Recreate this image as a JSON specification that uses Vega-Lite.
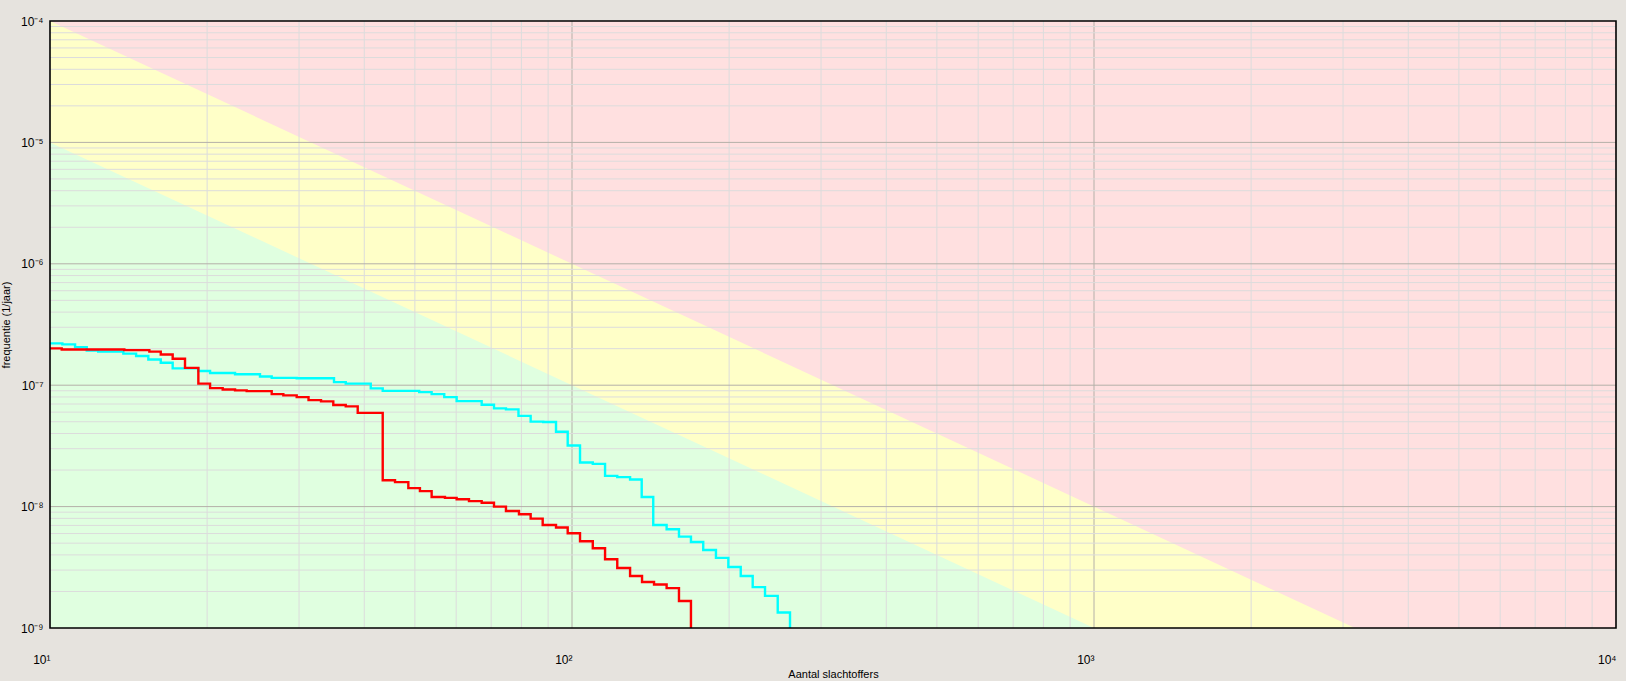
{
  "$schema": "https://vega.github.io/schema/vega-lite/v6.json",
  "description": "FN-curve with risk zones, log-log",
  "width": 1566,
  "height": 607,
  "autosize": {"type": "none"},
  "padding": {"left": 50, "top": 21, "right": 10, "bottom": 53},
  "background": "#E6E3DE",
  "config": {
    "view": {"stroke": null, "fill": "#FFE0E0"},
    "font": "Liberation Sans"
  },
  "datasets": {
    "zones": [
      {"zone": "geel", "N": 10, "F": 1e-4},
      {"zone": "geel", "N": 10000, "F": 1e-10},
      {"zone": "groen", "N": 10, "F": 1e-5},
      {"zone": "groen", "N": 10000, "F": 1e-11}
    ],
    "frame": [
      {"N": 10, "N2": 10000, "F": 1e-4, "F2": 1e-9}
    ],
    "gridX": [
      {"N": 20, "kind": "minor"}, {"N": 30, "kind": "minor"}, {"N": 40, "kind": "minor"},
      {"N": 50, "kind": "minor"}, {"N": 60, "kind": "minor"}, {"N": 70, "kind": "minor"},
      {"N": 80, "kind": "minor"}, {"N": 90, "kind": "minor"},
      {"N": 200, "kind": "minor"}, {"N": 300, "kind": "minor"}, {"N": 400, "kind": "minor"},
      {"N": 500, "kind": "minor"}, {"N": 600, "kind": "minor"}, {"N": 700, "kind": "minor"},
      {"N": 800, "kind": "minor"}, {"N": 900, "kind": "minor"},
      {"N": 2000, "kind": "minor"}, {"N": 3000, "kind": "minor"}, {"N": 4000, "kind": "minor"},
      {"N": 5000, "kind": "minor"}, {"N": 6000, "kind": "minor"}, {"N": 7000, "kind": "minor"},
      {"N": 8000, "kind": "minor"}, {"N": 9000, "kind": "minor"},
      {"N": 100, "kind": "major"}, {"N": 1000, "kind": "major"}
    ],
    "gridY": [
      {"F": 2e-9, "kind": "minor"}, {"F": 3e-9, "kind": "minor"}, {"F": 4e-9, "kind": "minor"},
      {"F": 5e-9, "kind": "minor"}, {"F": 6e-9, "kind": "minor"}, {"F": 7e-9, "kind": "minor"},
      {"F": 8e-9, "kind": "minor"}, {"F": 9e-9, "kind": "minor"},
      {"F": 2e-8, "kind": "minor"}, {"F": 3e-8, "kind": "minor"}, {"F": 4e-8, "kind": "minor"},
      {"F": 5e-8, "kind": "minor"}, {"F": 6e-8, "kind": "minor"}, {"F": 7e-8, "kind": "minor"},
      {"F": 8e-8, "kind": "minor"}, {"F": 9e-8, "kind": "minor"},
      {"F": 2e-7, "kind": "minor"}, {"F": 3e-7, "kind": "minor"}, {"F": 4e-7, "kind": "minor"},
      {"F": 5e-7, "kind": "minor"}, {"F": 6e-7, "kind": "minor"}, {"F": 7e-7, "kind": "minor"},
      {"F": 8e-7, "kind": "minor"}, {"F": 9e-7, "kind": "minor"},
      {"F": 2e-6, "kind": "minor"}, {"F": 3e-6, "kind": "minor"}, {"F": 4e-6, "kind": "minor"},
      {"F": 5e-6, "kind": "minor"}, {"F": 6e-6, "kind": "minor"}, {"F": 7e-6, "kind": "minor"},
      {"F": 8e-6, "kind": "minor"}, {"F": 9e-6, "kind": "minor"},
      {"F": 2e-5, "kind": "minor"}, {"F": 3e-5, "kind": "minor"}, {"F": 4e-5, "kind": "minor"},
      {"F": 5e-5, "kind": "minor"}, {"F": 6e-5, "kind": "minor"}, {"F": 7e-5, "kind": "minor"},
      {"F": 8e-5, "kind": "minor"}, {"F": 9e-5, "kind": "minor"},
      {"F": 1e-8, "kind": "major"}, {"F": 1e-7, "kind": "major"},
      {"F": 1e-6, "kind": "major"}, {"F": 1e-5, "kind": "major"}
    ],
    "curves": [
      {"serie": "cyaan", "N": 10, "F": 2.21e-7},
      {"serie": "cyaan", "N": 10.56, "F": 2.17e-7},
      {"serie": "cyaan", "N": 11.17, "F": 2.06e-7},
      {"serie": "cyaan", "N": 11.76, "F": 1.93e-7},
      {"serie": "cyaan", "N": 12.37, "F": 1.89e-7},
      {"serie": "cyaan", "N": 13.82, "F": 1.82e-7},
      {"serie": "cyaan", "N": 14.62, "F": 1.74e-7},
      {"serie": "cyaan", "N": 15.43, "F": 1.63e-7},
      {"serie": "cyaan", "N": 16.3, "F": 1.53e-7},
      {"serie": "cyaan", "N": 17.18, "F": 1.375e-7},
      {"serie": "cyaan", "N": 19.24, "F": 1.31e-7},
      {"serie": "cyaan", "N": 20.26, "F": 1.26e-7},
      {"serie": "cyaan", "N": 22.62, "F": 1.23e-7},
      {"serie": "cyaan", "N": 25.25, "F": 1.18e-7},
      {"serie": "cyaan", "N": 26.59, "F": 1.15e-7},
      {"serie": "cyaan", "N": 29.69, "F": 1.14e-7},
      {"serie": "cyaan", "N": 35.0, "F": 1.06e-7},
      {"serie": "cyaan", "N": 36.86, "F": 1.03e-7},
      {"serie": "cyaan", "N": 41.16, "F": 9.41e-8},
      {"serie": "cyaan", "N": 43.39, "F": 8.98e-8},
      {"serie": "cyaan", "N": 50.97, "F": 8.77e-8},
      {"serie": "cyaan", "N": 53.84, "F": 8.45e-8},
      {"serie": "cyaan", "N": 56.92, "F": 7.98e-8},
      {"serie": "cyaan", "N": 60.12, "F": 7.4e-8},
      {"serie": "cyaan", "N": 67.14, "F": 6.91e-8},
      {"serie": "cyaan", "N": 70.88, "F": 6.44e-8},
      {"serie": "cyaan", "N": 74.73, "F": 6.32e-8},
      {"serie": "cyaan", "N": 78.97, "F": 5.59e-8},
      {"serie": "cyaan", "N": 83.33, "F": 5.01e-8},
      {"serie": "cyaan", "N": 88.1, "F": 4.97e-8},
      {"serie": "cyaan", "N": 93.19, "F": 4.13e-8},
      {"serie": "cyaan", "N": 98.12, "F": 3.19e-8},
      {"serie": "cyaan", "N": 103.6, "F": 2.31e-8},
      {"serie": "cyaan", "N": 109.6, "F": 2.25e-8},
      {"serie": "cyaan", "N": 115.7, "F": 1.79e-8},
      {"serie": "cyaan", "N": 122.1, "F": 1.75e-8},
      {"serie": "cyaan", "N": 129.2, "F": 1.67e-8},
      {"serie": "cyaan", "N": 136.0, "F": 1.2e-8},
      {"serie": "cyaan", "N": 143.1, "F": 7.06e-9},
      {"serie": "cyaan", "N": 151.8, "F": 6.5e-9},
      {"serie": "cyaan", "N": 160.3, "F": 5.66e-9},
      {"serie": "cyaan", "N": 169.0, "F": 5.11e-9},
      {"serie": "cyaan", "N": 178.4, "F": 4.39e-9},
      {"serie": "cyaan", "N": 188.7, "F": 3.78e-9},
      {"serie": "cyaan", "N": 199.3, "F": 3.18e-9},
      {"serie": "cyaan", "N": 210.5, "F": 2.68e-9},
      {"serie": "cyaan", "N": 221.9, "F": 2.17e-9},
      {"serie": "cyaan", "N": 234.3, "F": 1.84e-9},
      {"serie": "cyaan", "N": 247.8, "F": 1.34e-9},
      {"serie": "cyaan", "N": 261.6, "F": 1e-10},
      {"serie": "rood", "N": 10, "F": 2.01e-7},
      {"serie": "rood", "N": 10.53, "F": 1.97e-7},
      {"serie": "rood", "N": 13.88, "F": 1.945e-7},
      {"serie": "rood", "N": 15.5, "F": 1.89e-7},
      {"serie": "rood", "N": 16.3, "F": 1.79e-7},
      {"serie": "rood", "N": 17.18, "F": 1.65e-7},
      {"serie": "rood", "N": 18.14, "F": 1.39e-7},
      {"serie": "rood", "N": 19.24, "F": 1.03e-7},
      {"serie": "rood", "N": 20.26, "F": 9.46e-8},
      {"serie": "rood", "N": 21.42, "F": 9.23e-8},
      {"serie": "rood", "N": 22.62, "F": 9.06e-8},
      {"serie": "rood", "N": 23.81, "F": 8.94e-8},
      {"serie": "rood", "N": 26.59, "F": 8.45e-8},
      {"serie": "rood", "N": 27.99, "F": 8.24e-8},
      {"serie": "rood", "N": 29.69, "F": 7.98e-8},
      {"serie": "rood", "N": 31.28, "F": 7.54e-8},
      {"serie": "rood", "N": 33.05, "F": 7.36e-8},
      {"serie": "rood", "N": 34.89, "F": 6.86e-8},
      {"serie": "rood", "N": 36.86, "F": 6.69e-8},
      {"serie": "rood", "N": 38.86, "F": 5.92e-8},
      {"serie": "rood", "N": 43.39, "F": 1.65e-8},
      {"serie": "rood", "N": 45.81, "F": 1.59e-8},
      {"serie": "rood", "N": 48.58, "F": 1.42e-8},
      {"serie": "rood", "N": 51.13, "F": 1.34e-8},
      {"serie": "rood", "N": 53.84, "F": 1.2e-8},
      {"serie": "rood", "N": 57.1, "F": 1.18e-8},
      {"serie": "rood", "N": 60.12, "F": 1.15e-8},
      {"serie": "rood", "N": 63.48, "F": 1.11e-8},
      {"serie": "rood", "N": 67.14, "F": 1.075e-8},
      {"serie": "rood", "N": 70.88, "F": 1.0e-8},
      {"serie": "rood", "N": 74.73, "F": 9.2e-9},
      {"serie": "rood", "N": 79.14, "F": 8.64e-9},
      {"serie": "rood", "N": 83.33, "F": 7.96e-9},
      {"serie": "rood", "N": 87.87, "F": 7.06e-9},
      {"serie": "rood", "N": 93.19, "F": 6.72e-9},
      {"serie": "rood", "N": 98.12, "F": 6.03e-9},
      {"serie": "rood", "N": 103.6, "F": 5.18e-9},
      {"serie": "rood", "N": 109.6, "F": 4.54e-9},
      {"serie": "rood", "N": 115.7, "F": 3.68e-9},
      {"serie": "rood", "N": 122.1, "F": 3.12e-9},
      {"serie": "rood", "N": 129.2, "F": 2.68e-9},
      {"serie": "rood", "N": 136.2, "F": 2.39e-9},
      {"serie": "rood", "N": 143.6, "F": 2.28e-9},
      {"serie": "rood", "N": 151.8, "F": 2.13e-9},
      {"serie": "rood", "N": 160.3, "F": 1.67e-9},
      {"serie": "rood", "N": 169.0, "F": 1e-10}
    ]
  },
  "encoding": {
    "x": {
      "field": "N",
      "type": "quantitative",
      "scale": {"type": "log", "domain": [10, 10000], "nice": false},
      "axis": {
        "title": "Aantal slachtoffers",
        "values": [10, 100, 1000, 10000],
        "labelExpr": "datum.value == 10 ? '10¹' : datum.value == 100 ? '10²' : datum.value == 1000 ? '10³' : '10⁴'",
        "grid": false, "ticks": false, "tickSize": 0, "domain": false,
        "labelFlush": false, "labelAlign": "right", "labelDx": 3,
        "labelBaseline": "alphabetic", "labelPadding": 35,
        "labelFontSize": 12, "labelColor": "#000000",
        "titleFontSize": 11, "titleFontWeight": "normal", "titleColor": "#000000",
        "titleBaseline": "alphabetic", "titleY": 49
      }
    },
    "y": {
      "field": "F",
      "type": "quantitative",
      "scale": {"type": "log", "domain": [1e-9, 1e-4], "nice": false},
      "axis": {
        "title": "frequentie (1/jaar)",
        "values": [1e-9, 1e-8, 1e-7, 1e-6, 1e-5, 1e-4],
        "labelExpr": "datum.value < 5e-9 ? '10⁻⁹' : datum.value < 5e-8 ? '10⁻⁸' : datum.value < 5e-7 ? '10⁻⁷' : datum.value < 5e-6 ? '10⁻⁶' : datum.value < 5e-5 ? '10⁻⁵' : '10⁻⁴'",
        "grid": false, "ticks": false, "tickSize": 0, "domain": false,
        "labelFlush": false, "labelPadding": 7, "labelBaseline": "middle",
        "labelFontSize": 12, "labelColor": "#000000",
        "titleFontSize": 11, "titleFontWeight": "normal", "titleColor": "#000000",
        "titleX": -44, "titleBaseline": "middle"
      }
    }
  },
  "layer": [
    {
      "data": {"name": "zones"},
      "transform": [{"filter": "datum.zone == 'geel'"}],
      "mark": {"type": "area", "color": "#FFFFC8", "clip": true},
      "encoding": {"y2": {"datum": 1e-9}}
    },
    {
      "data": {"name": "zones"},
      "transform": [{"filter": "datum.zone == 'groen'"}],
      "mark": {"type": "area", "color": "#E0FFE0", "clip": true},
      "encoding": {"y2": {"datum": 1e-9}}
    },
    {
      "data": {"name": "gridX"},
      "mark": {"type": "rule", "strokeWidth": 1},
      "encoding": {
        "y": null,
        "color": {"field": "kind", "type": "nominal", "scale": {"domain": ["minor", "major"], "range": ["#DCDCDC", "#B4B0A8"]}, "legend": null}
      }
    },
    {
      "data": {"name": "gridY"},
      "mark": {"type": "rule", "strokeWidth": 1},
      "encoding": {
        "x": null,
        "color": {"field": "kind", "type": "nominal", "scale": {"domain": ["minor", "major"], "range": ["#DCDCDC", "#B4B0A8"]}, "legend": null}
      }
    },
    {
      "data": {"name": "curves"},
      "transform": [{"filter": "datum.serie == 'cyaan'"}],
      "mark": {"type": "line", "interpolate": "step-after", "color": "#00FFFF", "strokeWidth": 2.4, "clip": true}
    },
    {
      "data": {"name": "curves"},
      "transform": [{"filter": "datum.serie == 'rood'"}],
      "mark": {"type": "line", "interpolate": "step-after", "color": "#FF0000", "strokeWidth": 2.4, "clip": true}
    },
    {
      "data": {"name": "frame"},
      "mark": {"type": "rect", "filled": false, "color": "#000000", "strokeWidth": 1.6},
      "encoding": {
        "x2": {"field": "N2"},
        "y2": {"field": "F2"}
      }
    }
  ]
}
